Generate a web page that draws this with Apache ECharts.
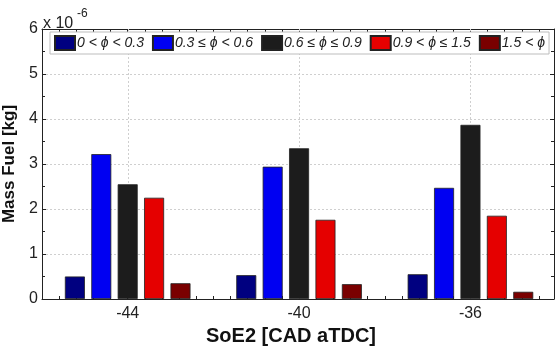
<!DOCTYPE html>
<html>
<head>
<meta charset="utf-8">
<script src="https://cdn.jsdelivr.net/npm/echarts@6/dist/echarts.min.js"></script>
<style>
  html, body { margin: 0; padding: 0; background: #fff; }
  #chart { width: 556px; height: 348px; }
</style>
</head>
<body>
<div id="chart"></div>
<script>
// Start of energising (CAD aTDC) for each group of bars
const soe = [-44, -40, -36];
const tickLabels = [-44, -40, -36];

// Equivalence-ratio bins
const bins = ['0 < ϕ < 0.3', '0.3 ≤ ϕ < 0.6', '0.6 ≤ ϕ ≤ 0.9', '0.9 < ϕ ≤ 1.5', '1.5 < ϕ'];
const binColors = ['#000080', '#0000f2', '#1c1c1c', '#e50000', '#7a0000'];

// Fuel mass per bin, units of 1e-6 kg
const phi0to03 = [0.50, 0.53, 0.55];
const phi03to06 = [3.22, 2.94, 2.47];
const phi06to09 = [2.55, 3.35, 3.87];
const phi09to15 = [2.25, 1.76, 1.85];
const phiAbove15 = [0.35, 0.33, 0.16];
const binValues = [phi0to03, phi03to06, phi06to09, phi09to15, phiAbove15];

const FONT = 'Liberation Sans, Arial, sans-serif';
const gridColor = '#cfcfcf';
const X_MIN = -46, X_MAX = -34.05, Y_MIN = 0, Y_MAX = 6;

const chart = echarts.init(document.getElementById('chart'), null, { renderer: 'canvas' });

const series = bins.map((name, i) => ({
  name: name,
  type: 'bar',
  xAxisIndex: 0,
  yAxisIndex: 0,
  barWidth: 20,
  barGap: '32%',
  z: 3,
  itemStyle: { color: binColors[i], borderColor: '#222', borderWidth: 0.8 },
  data: soe.map((x, j) => [x, binValues[i][j]])
}));

// vertical grid lines at the labelled SoE values, drawn behind the bars
series.push({
  type: 'custom',
  silent: true,
  z: 1,
  xAxisIndex: 0,
  yAxisIndex: 0,
  data: tickLabels.map(v => [v, Y_MAX]),
  renderItem: (params, api) => {
    const v = api.value(0);
    const p0 = api.coord([v, Y_MIN]);
    const p1 = api.coord([v, Y_MAX]);
    return {
      type: 'line',
      shape: { x1: Math.round(p0[0]) + 0.5, y1: p0[1], x2: Math.round(p1[0]) + 0.5, y2: p1[1] },
      style: { stroke: gridColor, lineWidth: 1, lineDash: [2, 2] }
    };
  }
});

const axisLineStyle = { show: true, onZero: false, lineStyle: { color: '#222', width: 1 } };

chart.setOption({
  animation: false,
  backgroundColor: '#fff',
  grid: { left: 42, right: 2, top: 29, bottom: 49, outerBoundsMode: 'none' },
  legend: {
    data: bins,
    left: 50,
    top: 32,
    orient: 'horizontal',
    icon: 'rect',
    itemWidth: 20,
    itemHeight: 14,
    itemGap: 8,
    padding: [3, 4, 3, 4],
    backgroundColor: '#fff',
    borderColor: '#bdbdbd',
    borderWidth: 1,
    selectedMode: false,
    textStyle: { fontFamily: FONT, fontSize: 14, fontStyle: 'italic', color: '#222', padding: [0, 0, 0, -3] }
  },
  xAxis: [
    {
      type: 'value', position: 'bottom', min: X_MIN, max: X_MAX, interval: 2,
      name: 'SoE2 [CAD aTDC]',
      nameLocation: 'middle',
      nameGap: 26,
      nameTextStyle: { fontFamily: FONT, fontSize: 20, fontWeight: 'bold', color: '#111', padding: [0, 14, 0, 0] },
      axisLine: axisLineStyle,
      axisTick: { show: true, inside: true, length: 3, lineStyle: { color: '#222' } },
      minorTick: { show: true, splitNumber: 5, length: 3, lineStyle: { color: '#222' } },
      splitLine: { show: false },
      minorSplitLine: { show: false },
      axisLabel: {
        show: true, margin: 7, fontFamily: FONT, fontSize: 16, color: '#222',
        formatter: v => (tickLabels.indexOf(Math.round(v)) >= 0 ? String(Math.round(v)) : '')
      }
    },
    {
      type: 'value', position: 'top', min: X_MIN, max: X_MAX, interval: 2,
      axisLine: axisLineStyle,
      axisTick: { show: true, inside: true, length: 3, lineStyle: { color: '#222' } },
      minorTick: { show: true, splitNumber: 5, length: 3, lineStyle: { color: '#222' } },
      splitLine: { show: false },
      minorSplitLine: { show: false },
      axisLabel: { show: false }
    }
  ],
  yAxis: [
    {
      type: 'value', position: 'left', min: Y_MIN, max: Y_MAX, interval: 1,
      name: 'Mass Fuel [kg]',
      nameLocation: 'middle',
      nameGap: 14,
      nameTextStyle: { fontFamily: FONT, fontSize: 17, fontWeight: 'bold', color: '#111' },
      axisLine: axisLineStyle,
      axisTick: { show: true, inside: true, length: 4, lineStyle: { color: '#222' } },
      minorTick: { show: true, splitNumber: 2, length: 3, lineStyle: { color: '#222' } },
      axisLabel: { show: true, margin: 4, fontFamily: FONT, fontSize: 16, color: '#222' },
      splitLine: { show: true, lineStyle: { color: gridColor, type: [2, 2], width: 1 } },
      minorSplitLine: { show: false }
    },
    {
      type: 'value', position: 'right', min: Y_MIN, max: Y_MAX, interval: 1,
      axisLine: axisLineStyle,
      axisTick: { show: true, inside: true, length: 4, lineStyle: { color: '#222' } },
      minorTick: { show: true, splitNumber: 2, length: 3, lineStyle: { color: '#222' } },
      axisLabel: { show: false },
      splitLine: { show: false },
      minorSplitLine: { show: false }
    }
  ],
  graphic: [
    {
      type: 'text', left: 43, top: 16,
      style: { text: 'x 10', fontFamily: FONT, fontSize: 16, fill: '#222' }
    },
    {
      type: 'text', left: 77, top: 8,
      style: { text: '-6', fontFamily: FONT, fontSize: 12, fill: '#222' }
    }
  ],
  series: series
});
</script>
</body>
</html>
